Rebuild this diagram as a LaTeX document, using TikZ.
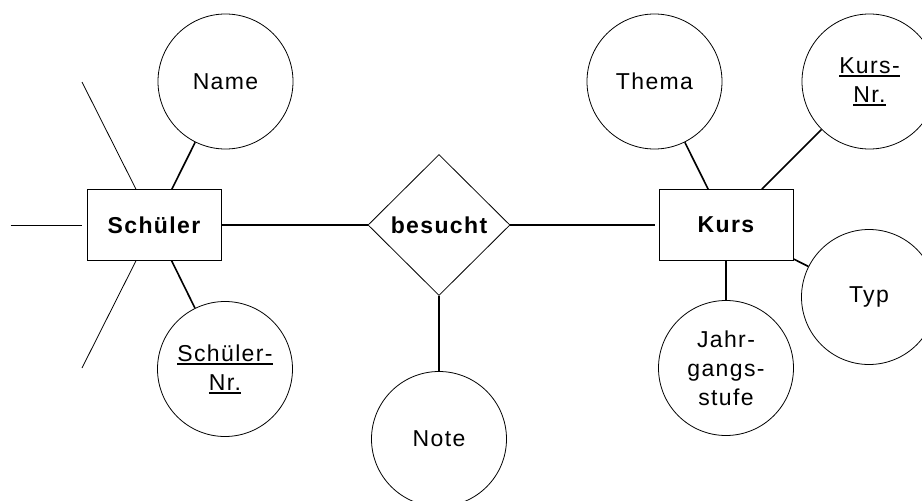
\documentclass[tikz,border=0pt]{standalone}
\usepackage{fontspec}
\setmainfont{Liberation Sans}[LetterSpace=6]
\usetikzlibrary{positioning, shapes.geometric}
\newcommand{\erfont}{\fontsize{23}{29}\selectfont}
\newcommand{\keyline}[1]{\setbox0\hbox{#1}%
	\rlap{\raisebox{-3.5pt}{\rule{\wd0}{1.6pt}}}\box0}
\tikzset{%
	entity/.style={draw, rectangle, minimum width=134pt, minimum height=71pt,%
		inner sep=0pt, line width=0.8pt, font=\erfont\bfseries},
	rel/.style={draw, diamond, minimum width=142pt, minimum height=141pt,%
		inner sep=0pt, line width=0.8pt, font=\erfont\bfseries},
	attr/.style={draw, circle, minimum size=135pt, inner sep=0pt,%
		line width=0.8pt, align=center, font=\erfont},
	conn/.style={line width=1.6pt},
	stub/.style={line width=0.8pt}
}

\begin{document}
\begin{tikzpicture}[x=1pt, y=-1pt, on grid]
	\useasboundingbox (0,0) rectangle (922,501);

	\node[entity]                                  (schueler) at (154,225) {Schüler};
	\node[rel, right=285pt of schueler]            (besucht) {besucht};
	\node[entity, right=287pt of besucht]          (kurs) {Kurs};

	\node[attr, above right=143.5pt and 71.5pt of schueler] (name) {Name};
	\node[attr, below right=144pt and 71pt of schueler]     (snr) {\keyline{Schüler-}\\\keyline{Nr.}};
	\node[attr, below=214pt of besucht]                     (note) {Note};
	\node[attr, above left=143.5pt and 71.5pt of kurs]      (thema) {Thema};
	\node[attr, above right=143.5pt and 143.5pt of kurs]    (knr) {\keyline{Kurs-}\\\keyline{Nr.}};
	\node[attr, below right=72pt and 143pt of kurs]         (typ) {Typ};
	\node[attr, below=143pt of kurs]                        (jahr) {Jahr-\\gangs-\\stufe};

	% cut off links to the rest of the model
	\coordinate[above left=143pt and 72pt of schueler] (out1);
	\coordinate[left=143.3pt of schueler]              (out2);
	\coordinate[below left=143pt and 72pt of schueler] (out3);

	\draw[stub]                  (out1) -- (schueler);
	\draw[stub, shorten >=5pt]   (out2) -- (schueler);
	\draw[stub]                  (out3) -- (schueler);

	\draw[conn]                  (schueler) -- (besucht);
	\draw[conn, shorten >=4pt]   (besucht) -- (kurs);
	\draw[conn]                  (besucht) -- (note);
	\draw[conn]                  (name) -- (schueler);
	\draw[conn]                  (snr) -- (schueler);
	\draw[conn]                  (thema) -- (kurs);
	\draw[conn]                  (knr) -- (kurs);
	\draw[conn]                  (typ) -- (kurs);
	\draw[conn]                  (jahr) -- (kurs);
\end{tikzpicture}
\end{document}
